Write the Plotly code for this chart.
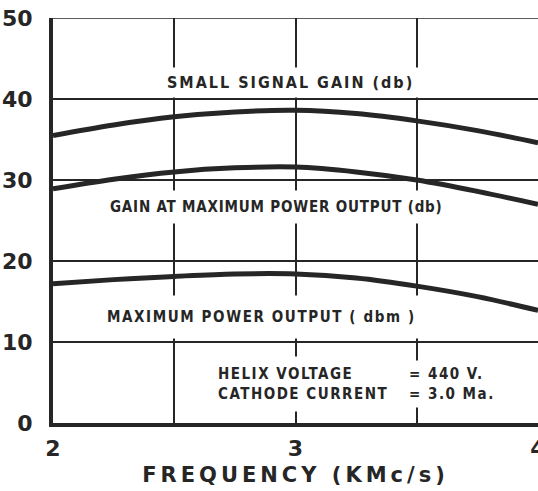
import plotly.graph_objects as go

freq = [2.0, 2.25, 2.5, 2.75, 3.0, 3.25, 3.5, 3.75, 4.0]
small_signal_gain = [35.5, 36.8, 37.8, 38.4, 38.6, 38.2, 37.3, 36.1, 34.6]
gain_max_power = [28.9, 30.1, 31.0, 31.5, 31.6, 31.0, 30.0, 28.6, 27.0]
max_power_out = [17.2, 17.7, 18.1, 18.4, 18.4, 17.9, 16.9, 15.6, 13.9]

ink = "#262626"

fig = go.Figure()
for ys in [small_signal_gain, gain_max_power, max_power_out]:
    fig.add_trace(go.Scatter(x=freq, y=ys, mode="lines", line_shape="spline",
                             line=dict(color=ink, width=5), showlegend=False,
                             hoverinfo="skip"))


def label(txt, x, y, anchor="center", pad=5, size=16, sp=2):
    fig.add_annotation(x=x, y=y, showarrow=False, xanchor=anchor,
                       text='<span style="letter-spacing:%spx"><b>%s</b></span>' % (sp, txt),
                       align="left", bgcolor="white", borderpad=pad,
                       font=dict(family="DejaVu Sans Condensed", size=size, color=ink))


label("SMALL SIGNAL GAIN (db)", 2.98, 42.0)
label("GAIN AT MAXIMUM POWER OUTPUT (db)", 2.92, 26.7, pad=7, size=15, sp=0.8)
label("MAXIMUM POWER OUTPUT ( dbm )", 2.86, 13.1, pad=12, size=15, sp=1.6)
label("HELIX VOLTAGE<br>CATHODE CURRENT", 2.643, 4.8, "left", pad=8, size=15, sp=1.5)
label("= 440 V.<br>= 3.0 Ma.", 3.447, 4.8, "left", pad=4, size=15, sp=1.5)

# top border at 50 is a plain grid line
fig.add_shape(type="line", xref="paper", yref="y", x0=0, x1=1, y0=50, y1=50,
              line=dict(color=ink, width=1.5), layer="below")

fig.update_layout(
    width=538, height=491,
    margin=dict(l=53, r=0, t=18, b=68),
    plot_bgcolor="white", paper_bgcolor="white",
    font=dict(family="DejaVu Sans", color=ink),
    xaxis=dict(range=[2, 4], tickvals=[2, 2.5, 3, 3.5, 4], ticktext=["2", "", "3", "", "4"],
               showgrid=True, gridcolor=ink, gridwidth=1.5, zeroline=False,
               showline=True, linecolor=ink, linewidth=4, ticks="", automargin=False,
               ticklabelstandoff=3, ticklabeloverflow="allow",
               tickfont=dict(size=22, weight="bold"),
               title=dict(text='<span style="letter-spacing:4px">FREQUENCY (KMc/s)</span>',
                          font=dict(size=21, weight="bold"), standoff=8)),
    yaxis=dict(range=[0, 50], tickvals=[0, 10, 20, 30, 40, 50],
               showgrid=True, gridcolor=ink, gridwidth=1.5, zeroline=False,
               showline=True, linecolor=ink, linewidth=4, ticks="", automargin=False,
               ticklabelstandoff=12, tickfont=dict(size=22, weight="bold")),
)

fig.write_html("out.html", config={"displayModeBar": False},
               post_script="document.body.style.margin='0';")
